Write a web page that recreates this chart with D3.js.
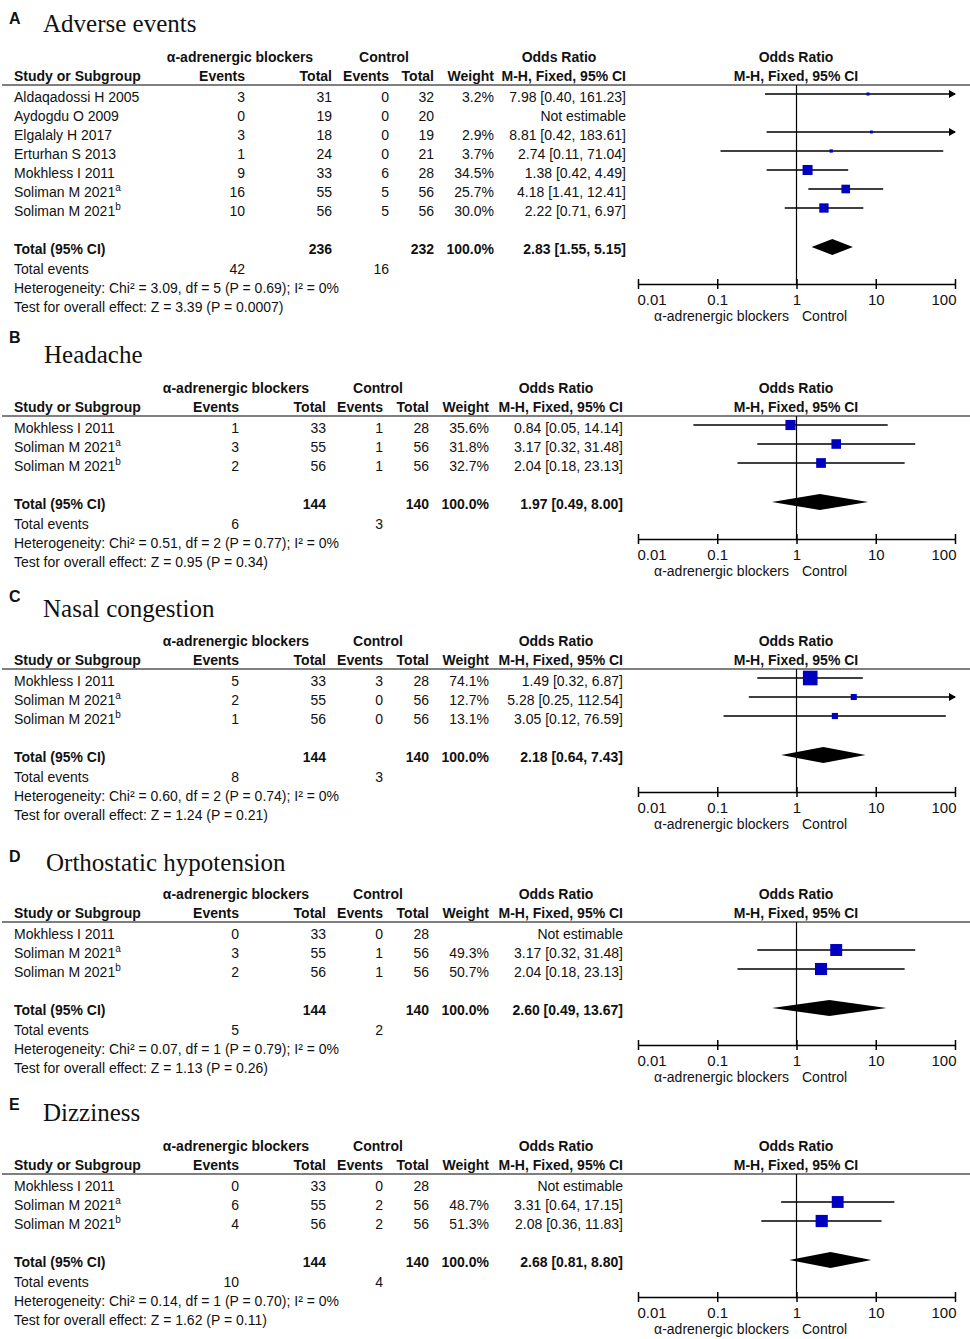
<!DOCTYPE html>
<html>
<head>
<meta charset="utf-8">
<script src="https://cdnjs.cloudflare.com/ajax/libs/d3/7.8.5/d3.min.js"></script>
<style>
body { margin: 0; background: #fff; }
text { font-family: "Liberation Sans", Arial, sans-serif; font-size: 14px; fill: #111; }
</style>
</head>
<body>
<div id="chart"></div>
<script>
var panelLetters = ["A", "B", "C", "D", "E"];
var panelTitles = ["Adverse events", "Headache", "Nasal congestion", "Orthostatic hypotension", "Dizziness"];
var axisTicks = [0.01, 0.1, 1, 10, 100];

// study rows: e1/n1 = alpha-blockers, e2/n2 = control, w = weight %, or/lo/hi = odds ratio and 95% CI
var adverseRows = [
    { study: "Aldaqadossi H 2005", sup: "", e1: 3, n1: 31, e2: 0, n2: 32, w: 3.2, or: 7.98, lo: 0.40, hi: 161.23 },
    { study: "Aydogdu O 2009", sup: "", e1: 0, n1: 19, e2: 0, n2: 20, w: null, or: null, lo: null, hi: null },
    { study: "Elgalaly H 2017", sup: "", e1: 3, n1: 18, e2: 0, n2: 19, w: 2.9, or: 8.81, lo: 0.42, hi: 183.61 },
    { study: "Erturhan S 2013", sup: "", e1: 1, n1: 24, e2: 0, n2: 21, w: 3.7, or: 2.74, lo: 0.11, hi: 71.04 },
    { study: "Mokhless I 2011", sup: "", e1: 9, n1: 33, e2: 6, n2: 28, w: 34.5, or: 1.38, lo: 0.42, hi: 4.49 },
    { study: "Soliman M 2021", sup: "a", e1: 16, n1: 55, e2: 5, n2: 56, w: 25.7, or: 4.18, lo: 1.41, hi: 12.41 },
    { study: "Soliman M 2021", sup: "b", e1: 10, n1: 56, e2: 5, n2: 56, w: 30.0, or: 2.22, lo: 0.71, hi: 6.97 }
];
var headacheRows = [
    { study: "Mokhless I 2011", sup: "", e1: 1, n1: 33, e2: 1, n2: 28, w: 35.6, or: 0.84, lo: 0.05, hi: 14.14 },
    { study: "Soliman M 2021", sup: "a", e1: 3, n1: 55, e2: 1, n2: 56, w: 31.8, or: 3.17, lo: 0.32, hi: 31.48 },
    { study: "Soliman M 2021", sup: "b", e1: 2, n1: 56, e2: 1, n2: 56, w: 32.7, or: 2.04, lo: 0.18, hi: 23.13 }
];
var nasalRows = [
    { study: "Mokhless I 2011", sup: "", e1: 5, n1: 33, e2: 3, n2: 28, w: 74.1, or: 1.49, lo: 0.32, hi: 6.87 },
    { study: "Soliman M 2021", sup: "a", e1: 2, n1: 55, e2: 0, n2: 56, w: 12.7, or: 5.28, lo: 0.25, hi: 112.54 },
    { study: "Soliman M 2021", sup: "b", e1: 1, n1: 56, e2: 0, n2: 56, w: 13.1, or: 3.05, lo: 0.12, hi: 76.59 }
];
var orthoRows = [
    { study: "Mokhless I 2011", sup: "", e1: 0, n1: 33, e2: 0, n2: 28, w: null, or: null, lo: null, hi: null },
    { study: "Soliman M 2021", sup: "a", e1: 3, n1: 55, e2: 1, n2: 56, w: 49.3, or: 3.17, lo: 0.32, hi: 31.48 },
    { study: "Soliman M 2021", sup: "b", e1: 2, n1: 56, e2: 1, n2: 56, w: 50.7, or: 2.04, lo: 0.18, hi: 23.13 }
];
var dizzyRows = [
    { study: "Mokhless I 2011", sup: "", e1: 0, n1: 33, e2: 0, n2: 28, w: null, or: null, lo: null, hi: null },
    { study: "Soliman M 2021", sup: "a", e1: 6, n1: 55, e2: 2, n2: 56, w: 48.7, or: 3.31, lo: 0.64, hi: 17.15 },
    { study: "Soliman M 2021", sup: "b", e1: 4, n1: 56, e2: 2, n2: 56, w: 51.3, or: 2.08, lo: 0.36, hi: 11.83 }
];

// pooled: n1, n2, or, lo, hi, events1, events2, chi, df, pHet, i2, z, p
var adverseTotal = { n1: 236, n2: 232, or: 2.83, lo: 1.55, hi: 5.15, e1: 42, e2: 16, chi: "3.09", df: 5, pHet: "0.69", i2: 0, z: "3.39", p: "0.0007" };
var headacheTotal = { n1: 144, n2: 140, or: 1.97, lo: 0.49, hi: 8.00, e1: 6, e2: 3, chi: "0.51", df: 2, pHet: "0.77", i2: 0, z: "0.95", p: "0.34" };
var nasalTotal = { n1: 144, n2: 140, or: 2.18, lo: 0.64, hi: 7.43, e1: 8, e2: 3, chi: "0.60", df: 2, pHet: "0.74", i2: 0, z: "1.24", p: "0.21" };
var orthoTotal = { n1: 144, n2: 140, or: 2.60, lo: 0.49, hi: 13.67, e1: 5, e2: 2, chi: "0.07", df: 1, pHet: "0.79", i2: 0, z: "1.13", p: "0.26" };
var dizzyTotal = { n1: 144, n2: 140, or: 2.68, lo: 0.81, hi: 8.80, e1: 10, e2: 4, chi: "0.14", df: 1, pHet: "0.70", i2: 0, z: "1.62", p: "0.11" };

// layout
var panelY = [57, 388, 641, 894, 1146];
var letterY = [24, 343, 602, 862, 1110];
var titleY = [32, 363, 617, 871, 1121];
var titleX = [43, 44, 43, 46, 43];
var colsWide = { ev1: 245, n1: 332, ev2: 389, n2: 434, w: 494, ci: 626, g1: 240, g2: 384, g3: 559 };
var colsNarrow = { ev1: 239, n1: 326, ev2: 383, n2: 429, w: 489, ci: 623, g1: 236, g2: 378, g3: 556 };

var width = 970, height = 1339;
var svg = d3.select("#chart").append("svg")
    .attr("width", width)
    .attr("height", height);

var x = d3.scaleLog().domain([0.01, 100]).range([638, 955]);
var boxSize = d3.scaleSqrt().domain([0, 100]).range([0, 17]);
var f2 = d3.format(".2f");
var blue = "#0000c0";

function ciText(d) {
    if (d.or == null) return "Not estimable";
    return f2(d.or) + " [" + f2(d.lo) + ", " + f2(d.hi) + "]";
}

function txt(g, xx, yy, s, anchor, bold) {
    return g.append("text")
        .attr("x", xx)
        .attr("y", yy + 5)
        .attr("text-anchor", anchor || "start")
        .style("font-weight", bold ? "bold" : "normal")
        .text(s);
}

function drawPanel(i, rows, tot, cols) {
    var y0 = panelY[i];
    var g = svg.append("g");

    g.append("text").attr("x", 9).attr("y", letterY[i])
        .style("font-weight", "bold").style("font-size", "16px")
        .text(panelLetters[i]);
    g.append("text").attr("x", titleX[i]).attr("y", titleY[i])
        .style("font-family", "'Liberation Serif', 'Times New Roman', serif")
        .style("font-size", "25px")
        .text(panelTitles[i]);

    // headers
    txt(g, cols.g1, y0, "α-adrenergic blockers", "middle", true);
    txt(g, cols.g2, y0, "Control", "middle", true);
    txt(g, cols.g3, y0, "Odds Ratio", "middle", true);
    txt(g, 796, y0, "Odds Ratio", "middle", true);
    var h2 = y0 + 19;
    txt(g, 14, h2, "Study or Subgroup", "start", true);
    txt(g, cols.ev1, h2, "Events", "end", true);
    txt(g, cols.n1, h2, "Total", "end", true);
    txt(g, cols.ev2, h2, "Events", "end", true);
    txt(g, cols.n2, h2, "Total", "end", true);
    txt(g, cols.w, h2, "Weight", "end", true);
    txt(g, cols.ci, h2, "M-H, Fixed, 95% CI", "end", true);
    txt(g, 796, h2, "M-H, Fixed, 95% CI", "middle", true);

    var ruleY = y0 + 28;
    g.append("line").attr("x1", 2).attr("x2", width).attr("y1", ruleY).attr("y2", ruleY)
        .attr("stroke", "#000").attr("stroke-width", 1.2);

    var rowY = function (j) { return y0 + 40 + 19 * j; };
    var totY = rowY(rows.length - 1) + 38;
    var axisY = totY + 35;

    rows.forEach(function (d, j) {
        var yy = rowY(j);
        var t = txt(g, 14, yy, d.study, "start", false);
        if (d.sup) {
            t.append("tspan").attr("dy", -6).style("font-size", "10px").text(d.sup);
        }
        txt(g, cols.ev1, yy, d.e1, "end");
        txt(g, cols.n1, yy, d.n1, "end");
        txt(g, cols.ev2, yy, d.e2, "end");
        txt(g, cols.n2, yy, d.n2, "end");
        if (d.w != null) txt(g, cols.w, yy, d.w.toFixed(1) + "%", "end");
        txt(g, cols.ci, yy, ciText(d), "end");
    });

    txt(g, 14, totY, "Total (95% CI)", "start", true);
    txt(g, cols.n1, totY, tot.n1, "end", true);
    txt(g, cols.n2, totY, tot.n2, "end", true);
    txt(g, cols.w, totY, "100.0%", "end", true);
    txt(g, cols.ci, totY, ciText(tot), "end", true);
    txt(g, 14, totY + 20, "Total events");
    txt(g, cols.ev1, totY + 20, tot.e1, "end");
    txt(g, cols.ev2, totY + 20, tot.e2, "end");
    txt(g, 14, totY + 39, "Heterogeneity: Chi² = " + tot.chi + ", df = " + tot.df +
        " (P = " + tot.pHet + "); I² = " + tot.i2 + "%");
    txt(g, 14, totY + 58, "Test for overall effect: Z = " + tot.z + " (P = " + tot.p + ")");

    // forest plot
    g.append("line").attr("x1", x(1)).attr("x2", x(1)).attr("y1", ruleY).attr("y2", axisY)
        .attr("stroke", "#000").attr("stroke-width", 1.2);

    var est = rows.map(function (d, j) { return { d: d, y: rowY(j) - 3 }; })
        .filter(function (r) { return r.d.or != null; });

    g.selectAll(".ci").data(est).enter().append("line")
        .attr("x1", function (r) { return x(r.d.lo); })
        .attr("x2", function (r) { return x(Math.min(r.d.hi, 100)); })
        .attr("y1", function (r) { return r.y; })
        .attr("y2", function (r) { return r.y; })
        .attr("stroke", "#000").attr("stroke-width", 1.3);

    g.selectAll(".arrow").data(est.filter(function (r) { return r.d.hi > 100; })).enter().append("path")
        .attr("d", function (r) {
            var tip = x(100) + 1;
            return "M" + (tip - 7) + "," + (r.y - 4) + "L" + tip + "," + r.y + "L" + (tip - 7) + "," + (r.y + 4) + "Z";
        })
        .attr("fill", "#000");

    g.selectAll(".box").data(est).enter().append("rect")
        .attr("x", function (r) { return x(r.d.or) - boxSize(r.d.w) / 2; })
        .attr("y", function (r) { return r.y - boxSize(r.d.w) / 2; })
        .attr("width", function (r) { return boxSize(r.d.w); })
        .attr("height", function (r) { return boxSize(r.d.w); })
        .attr("fill", blue);

    var dy = totY - 2;
    g.append("path")
        .attr("d", "M" + x(tot.lo) + "," + dy + "L" + x(tot.or) + "," + (dy - 8) +
            "L" + x(tot.hi) + "," + dy + "L" + x(tot.or) + "," + (dy + 8) + "Z")
        .attr("fill", "#000");

    var ax = g.append("g")
        .attr("transform", "translate(0," + axisY + ")")
        .call(d3.axisBottom(x).tickValues(axisTicks).tickFormat(d3.format("~g"))
            .tickSize(5).tickSizeOuter(0).tickPadding(5));
    ax.select(".domain").attr("stroke", "#000").attr("stroke-width", 1.5);
    ax.selectAll(".tick line").attr("y1", -5).attr("y2", 5).attr("stroke", "#000").attr("stroke-width", 1.5);
    ax.selectAll(".tick text")
        .style("font-size", "15px")
        .attr("text-anchor", function (d, k) { return k === 0 ? "start" : (k === axisTicks.length - 1 ? "end" : "middle"); })
        .attr("x", function (d, k) { return k === 0 ? -1 : (k === axisTicks.length - 1 ? 1 : 0); });

    g.append("text").attr("x", 789).attr("y", axisY + 37).attr("text-anchor", "end")
        .text("α-adrenergic blockers");
    g.append("text").attr("x", 802).attr("y", axisY + 37).text("Control");
}

drawPanel(0, adverseRows, adverseTotal, colsWide);
drawPanel(1, headacheRows, headacheTotal, colsNarrow);
drawPanel(2, nasalRows, nasalTotal, colsNarrow);
drawPanel(3, orthoRows, orthoTotal, colsNarrow);
drawPanel(4, dizzyRows, dizzyTotal, colsNarrow);
</script>
</body>
</html>
